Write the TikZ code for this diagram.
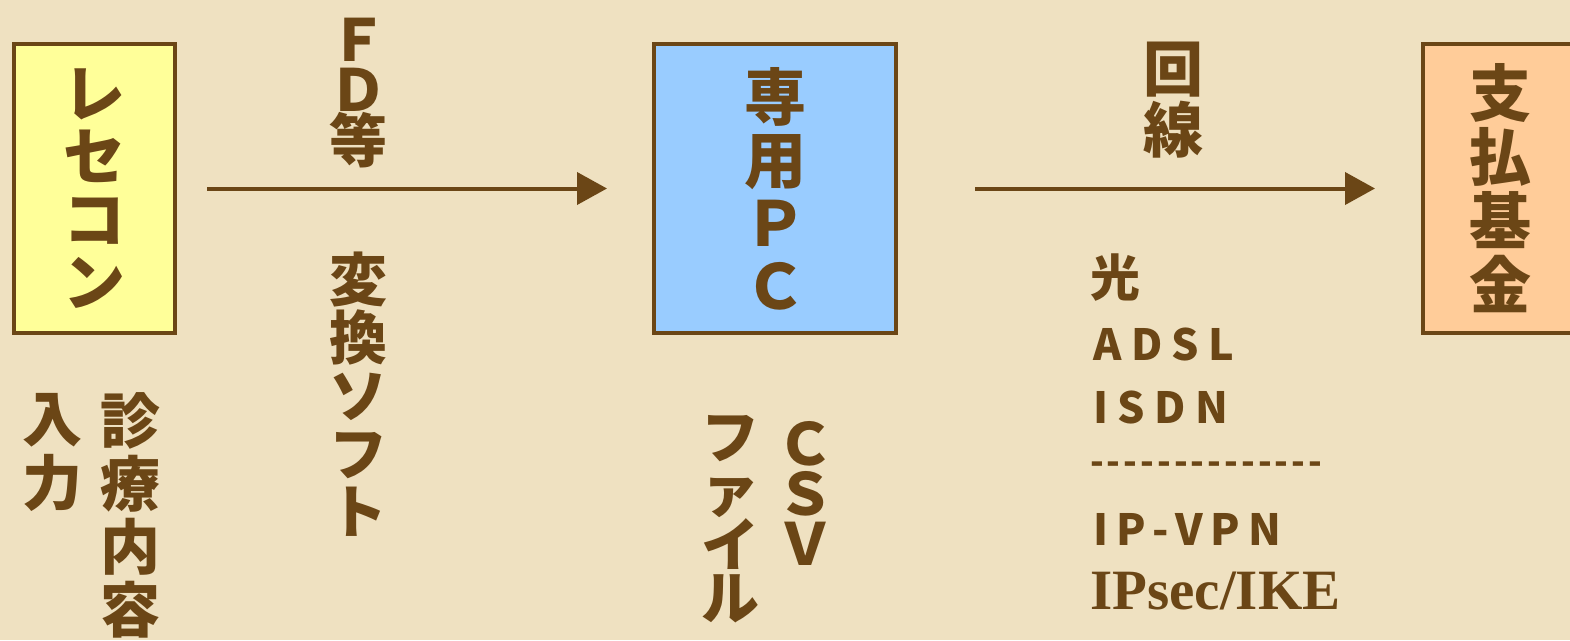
\documentclass[tikz,border=0pt]{standalone}
\usepackage{fontspec}
\usetikzlibrary{arrows.meta}
\newfontfamily\jp{Noto Sans CJK JP}
\newfontfamily\tnr{Liberation Serif}
\definecolor{brn}{HTML}{6B4616}
\definecolor{bg}{HTML}{EFE1C1}
\definecolor{ylw}{HTML}{FFFF99}
\definecolor{blu}{HTML}{99CCFF}
\definecolor{org}{HTML}{FFCC99}
\newcommand\fs[2]{\fontsize{#1pt}{#2pt}\selectfont}
\newcommand\dashrow{\foreach \i in {1,...,14}{-\kern 3pt}}
\begin{document}
\begin{tikzpicture}[x=1pt,y=-1pt,
 box/.style={draw=brn,line width=4pt,inner sep=0pt,align=center,text=brn,minimum height=289pt},
 vt/.style={inner sep=0pt,align=center,text=brn},
 lt/.style={inner sep=0pt,anchor=base west,text=brn},
 arr/.style={draw=brn,line width=4pt,-{Triangle[length=30pt,width=32pt]}}]
\fill[bg] (0,0) rectangle (1570,640);
\useasboundingbox (0,0) rectangle (1570,640);
\clip (0,0) rectangle (1570,640);
% boxes
\node[box,fill=ylw,minimum width=161pt,font=\jp\bfseries\fs{62}{63}] (rece) at (94.5,188.5) {レ\\セ\\コ\\ン};
\node[box,fill=blu,minimum width=242pt,font=\jp\bfseries\fs{62}{63}] (pc) at (775,188.5) {専\\用\\Ｐ\\Ｃ};
\node[box,fill=org,minimum width=154pt,font=\jp\bfseries\fs{62}{64}] (kikin) at (1500,188.5) {支\\払\\基\\金};
% arrows
\draw[arr,shorten <=30pt,shorten >=45pt] (rece.east) -- (pc.west);
\draw[arr,shorten <=77pt,shorten >=46pt] (pc.east) -- (kikin.west);
% vertical labels
\node[vt,font=\jp\bfseries\fs{58}{50}] (fd) at (358,93) {Ｆ\\Ｄ\\等};
\node[vt,font=\jp\bfseries\fs{58}{58}] (soft) at (358,394) {変\\換\\ソ\\フ\\ト};
\node[vt,font=\jp\bfseries\fs{60}{64}] (nyu) at (52,452) {入\\力};
\node[vt,font=\jp\bfseries\fs{60}{63}] (shin) at (130,515) {診\\療\\内\\容};
\node[vt,font=\jp\bfseries\fs{58}{50}] (csv) at (805,493) {Ｃ\\Ｓ\\Ｖ};
\node[vt,font=\jp\bfseries\fs{58}{53}] (file) at (730,519) {フ\\ァ\\イ\\ル};
\node[vt,font=\jp\bfseries\fs{60}{61}] (kaisen) at (1173,100) {回\\線};
% line list
\node[lt,font=\jp\bfseries\fs{50}{50}] (hikari) at (1090,296) {光};
\node[lt,font=\jp\bfseries\fs{43}{43}\addfontfeature{LetterSpace=22}] (adsl) at (1093,360) {ADSL};
\node[lt,font=\jp\bfseries\fs{43}{43}\addfontfeature{LetterSpace=22}] (isdn) at (1093,423) {ISDN};
\node[lt,anchor=west,font=\jp\bfseries\fs{36}{36}] (dash) at (1090,468) {\dashrow};
\node[lt,font=\jp\bfseries\fs{43}{43}\addfontfeature{LetterSpace=18}] (ipvpn) at (1093,545) {IP-VPN};
\node[lt,font=\tnr\bfseries\fs{57}{57}] (ipsec) at (1090,609) {IPsec/IKE};
\end{tikzpicture}
\end{document}
